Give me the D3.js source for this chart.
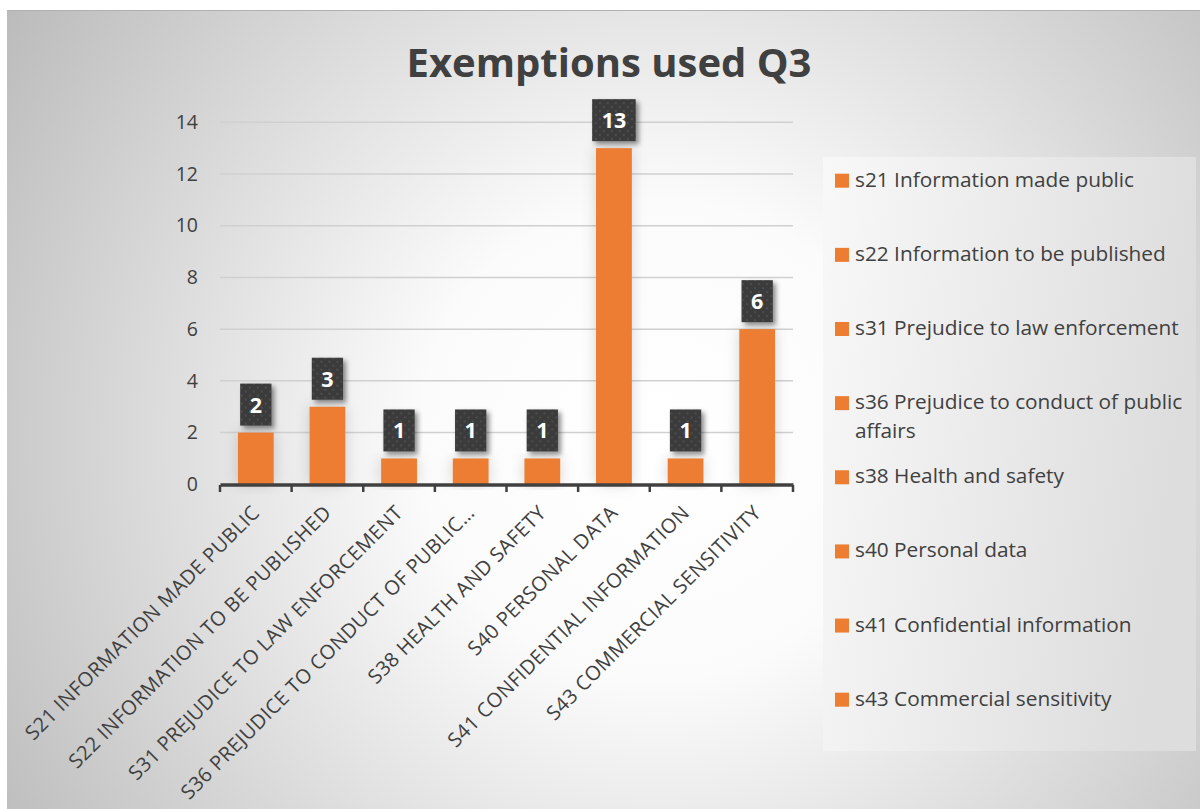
<!DOCTYPE html>
<html>
<head>
<meta charset="utf-8">
<script src="https://cdn.jsdelivr.net/npm/d3@7"></script>
<style>
  body { margin: 0; background: #fff; }
  text { font-family: "Open Sans", Lato, sans-serif; }
</style>
</head>
<body>
<script>
// chart data
var categories = [
  "s21 Information made public",
  "s22 Information to be published",
  "s31 Prejudice to law enforcement",
  "s36 Prejudice to conduct of public affairs",
  "s38 Health and safety",
  "s40 Personal data",
  "s41 Confidential information",
  "s43 Commercial sensitivity"
];
var axisLabels = [
  "S21 INFORMATION MADE PUBLIC",
  "S22 INFORMATION TO BE PUBLISHED",
  "S31 PREJUDICE TO LAW ENFORCEMENT",
  "S36 PREJUDICE TO CONDUCT OF PUBLIC\u2026",
  "S38 HEALTH AND SAFETY",
  "S40 PERSONAL DATA",
  "S41 CONFIDENTIAL INFORMATION",
  "S43 COMMERCIAL SENSITIVITY"
];
var values = [2, 3, 1, 1, 1, 13, 1, 6];
var yTicks = [0, 2, 4, 6, 8, 10, 12, 14];
var legendLines = [
  ["s21 Information made public"],
  ["s22 Information to be published"],
  ["s31 Prejudice to law enforcement"],
  ["s36 Prejudice to conduct of public", "affairs"],
  ["s38 Health and safety"],
  ["s40 Personal data"],
  ["s41 Confidential information"],
  ["s43 Commercial sensitivity"]
];

var W = 1200, H = 809;
var orange = "#ED7D31", dark = "#404040";

var svg = d3.select("body").append("svg")
  .attr("width", W).attr("height", H);

var defs = svg.append("defs");

// background radial gradient
var bg = defs.append("radialGradient").attr("id", "bg")
  .attr("gradientUnits", "userSpaceOnUse")
  .attr("cx", 660).attr("cy", 440).attr("r", 800);
bg.append("stop").attr("offset", "0").attr("stop-color", "#ffffff");
bg.append("stop").attr("offset", "0.3").attr("stop-color", "#fbfbfb");
bg.append("stop").attr("offset", "1").attr("stop-color", "#b9b9b9");

var lg = defs.append("linearGradient").attr("id", "lg")
  .attr("x1", 0).attr("y1", 0).attr("x2", 1).attr("y2", 0.2);
lg.append("stop").attr("offset", "0").attr("stop-color", "#f8f8f8");
lg.append("stop").attr("offset", "1").attr("stop-color", "#dddddd");

// dotted pattern for data label boxes
var pat = defs.append("pattern").attr("id", "dots")
  .attr("patternUnits", "userSpaceOnUse")
  .attr("width", 8).attr("height", 8);
pat.append("rect").attr("width", 8).attr("height", 8).attr("fill", "#3b3b3b");
pat.append("circle").attr("cx", 2).attr("cy", 2).attr("r", 0.9).attr("fill", "#565656");
pat.append("circle").attr("cx", 6).attr("cy", 6).attr("r", 0.9).attr("fill", "#565656");

var sh = defs.append("filter").attr("id", "boxShadow")
  .attr("x", "-30%").attr("y", "-30%").attr("width", "170%").attr("height", "170%");
sh.append("feDropShadow").attr("dx", 3).attr("dy", 3).attr("stdDeviation", 2.5)
  .attr("flood-color", "#000").attr("flood-opacity", 0.45);

var glow = defs.append("filter").attr("id", "barGlow")
  .attr("x", "-60%").attr("y", "-20%").attr("width", "220%").attr("height", "140%");
glow.append("feDropShadow").attr("dx", 0).attr("dy", 0).attr("stdDeviation", 7)
  .attr("flood-color", "#000").attr("flood-opacity", 0.16);

// chart background
svg.append("rect")
  .attr("x", 7).attr("y", 10).attr("width", W - 7).attr("height", H - 10)
  .attr("fill", "url(#bg)");
svg.append("line")
  .attr("x1", 7).attr("x2", W).attr("y1", 10.5).attr("y2", 10.5)
  .attr("stroke", "#b0b0b0").attr("stroke-width", 1);

// title
svg.append("text")
  .attr("x", 609).attr("y", 77)
  .attr("text-anchor", "middle")
  .attr("font-size", 40).attr("font-weight", "bold")
  .attr("fill", dark)
  .text("Exemptions used Q3");

// scales
var x = d3.scaleBand().domain(d3.range(values.length)).range([220, 793]).padding(0);
var y = d3.scaleLinear().domain([0, 14]).range([484.3, 122.3]);
var barW = x.bandwidth() * 0.5;

// gridlines
svg.append("g").selectAll("line")
  .data(yTicks.filter(function (d) { return d > 0; }))
  .enter().append("line")
  .attr("x1", 220).attr("x2", 793)
  .attr("y1", function (d) { return y(d); })
  .attr("y2", function (d) { return y(d); })
  .attr("stroke", "#d0d0d0").attr("stroke-width", 1.5);

// y axis labels
var yAxis = svg.append("g")
  .attr("transform", "translate(206,0)")
  .call(d3.axisLeft(y).tickValues(yTicks).tickSize(0).tickPadding(8));
yAxis.select(".domain").remove();
yAxis.selectAll("text")
  .attr("font-family", "'Open Sans', Lato, sans-serif")
  .attr("font-size", 19.5).attr("fill", dark);

// bars
svg.append("g").selectAll("rect")
  .data(values)
  .enter().append("rect")
  .attr("x", function (d, i) { return x(i) + (x.bandwidth() - barW) / 2; })
  .attr("y", function (d) { return y(d); })
  .attr("width", barW)
  .attr("height", function (d) { return y(0) - y(d); })
  .attr("fill", orange)
  .attr("filter", "url(#barGlow)");

// x axis
var xAxis = svg.append("g")
  .attr("transform", "translate(0,484.5)")
  .call(d3.axisBottom(x).tickSize(0).tickFormat(""));
xAxis.select(".domain").attr("stroke", dark).attr("stroke-width", 3.5);
var boundaries = d3.range(values.length + 1);
svg.append("g").selectAll("line")
  .data(boundaries)
  .enter().append("line")
  .attr("x1", function (d) { return 220 + d * x.bandwidth(); })
  .attr("x2", function (d) { return 220 + d * x.bandwidth(); })
  .attr("y1", 485).attr("y2", 492)
  .attr("stroke", dark).attr("stroke-width", 2.5);

// rotated category labels
svg.append("g").selectAll("text")
  .data(axisLabels)
  .enter().append("text")
  .attr("transform", function (d, i) {
    return "translate(" + (x(i) + x.bandwidth() / 2 + 5) + ",514) rotate(-45)";
  })
  .attr("text-anchor", "end")
  .attr("font-size", 20)
  .attr("letter-spacing", 0.4)
  .attr("fill", dark)
  .text(function (d) { return d; });

// data labels
var lab = svg.append("g").selectAll("g")
  .data(values)
  .enter().append("g")
  .attr("transform", function (d, i) {
    return "translate(" + (x(i) + x.bandwidth() / 2) + "," + (y(d) - 7) + ")";
  });
lab.each(function (d) {
  var g = d3.select(this);
  var rect = g.append("rect").attr("fill", "url(#dots)").attr("filter", "url(#boxShadow)");
  var t = g.append("text")
    .attr("text-anchor", "middle")
    .attr("y", -13)
    .attr("font-size", 21.5).attr("font-weight", "bold")
    .attr("fill", "#fff")
    .text(d);
  var w = t.node().getComputedTextLength() + 19;
  rect.attr("x", -w / 2).attr("y", -42).attr("width", w).attr("height", 42);
});

// legend
svg.append("rect")
  .attr("x", 823).attr("y", 157).attr("width", 373).attr("height", 594)
  .attr("fill", "url(#lg)");

var ly = d3.scaleLinear().domain([0, 7]).range([186.7, 705.7]);
var items = svg.append("g").selectAll("g")
  .data(legendLines)
  .enter().append("g")
  .attr("transform", function (d, i) { return "translate(0," + ly(i) + ")"; });
items.append("rect")
  .attr("x", 835).attr("y", -13).attr("width", 14).attr("height", 14)
  .attr("fill", orange);
items.each(function (lines) {
  var t = d3.select(this).append("text")
    .attr("x", 855).attr("font-size", 20.8).attr("fill", dark);
  lines.forEach(function (s, k) {
    t.append("tspan").attr("x", 855).attr("dy", k === 0 ? 0 : 29).text(s);
  });
});
</script>
</body>
</html>
